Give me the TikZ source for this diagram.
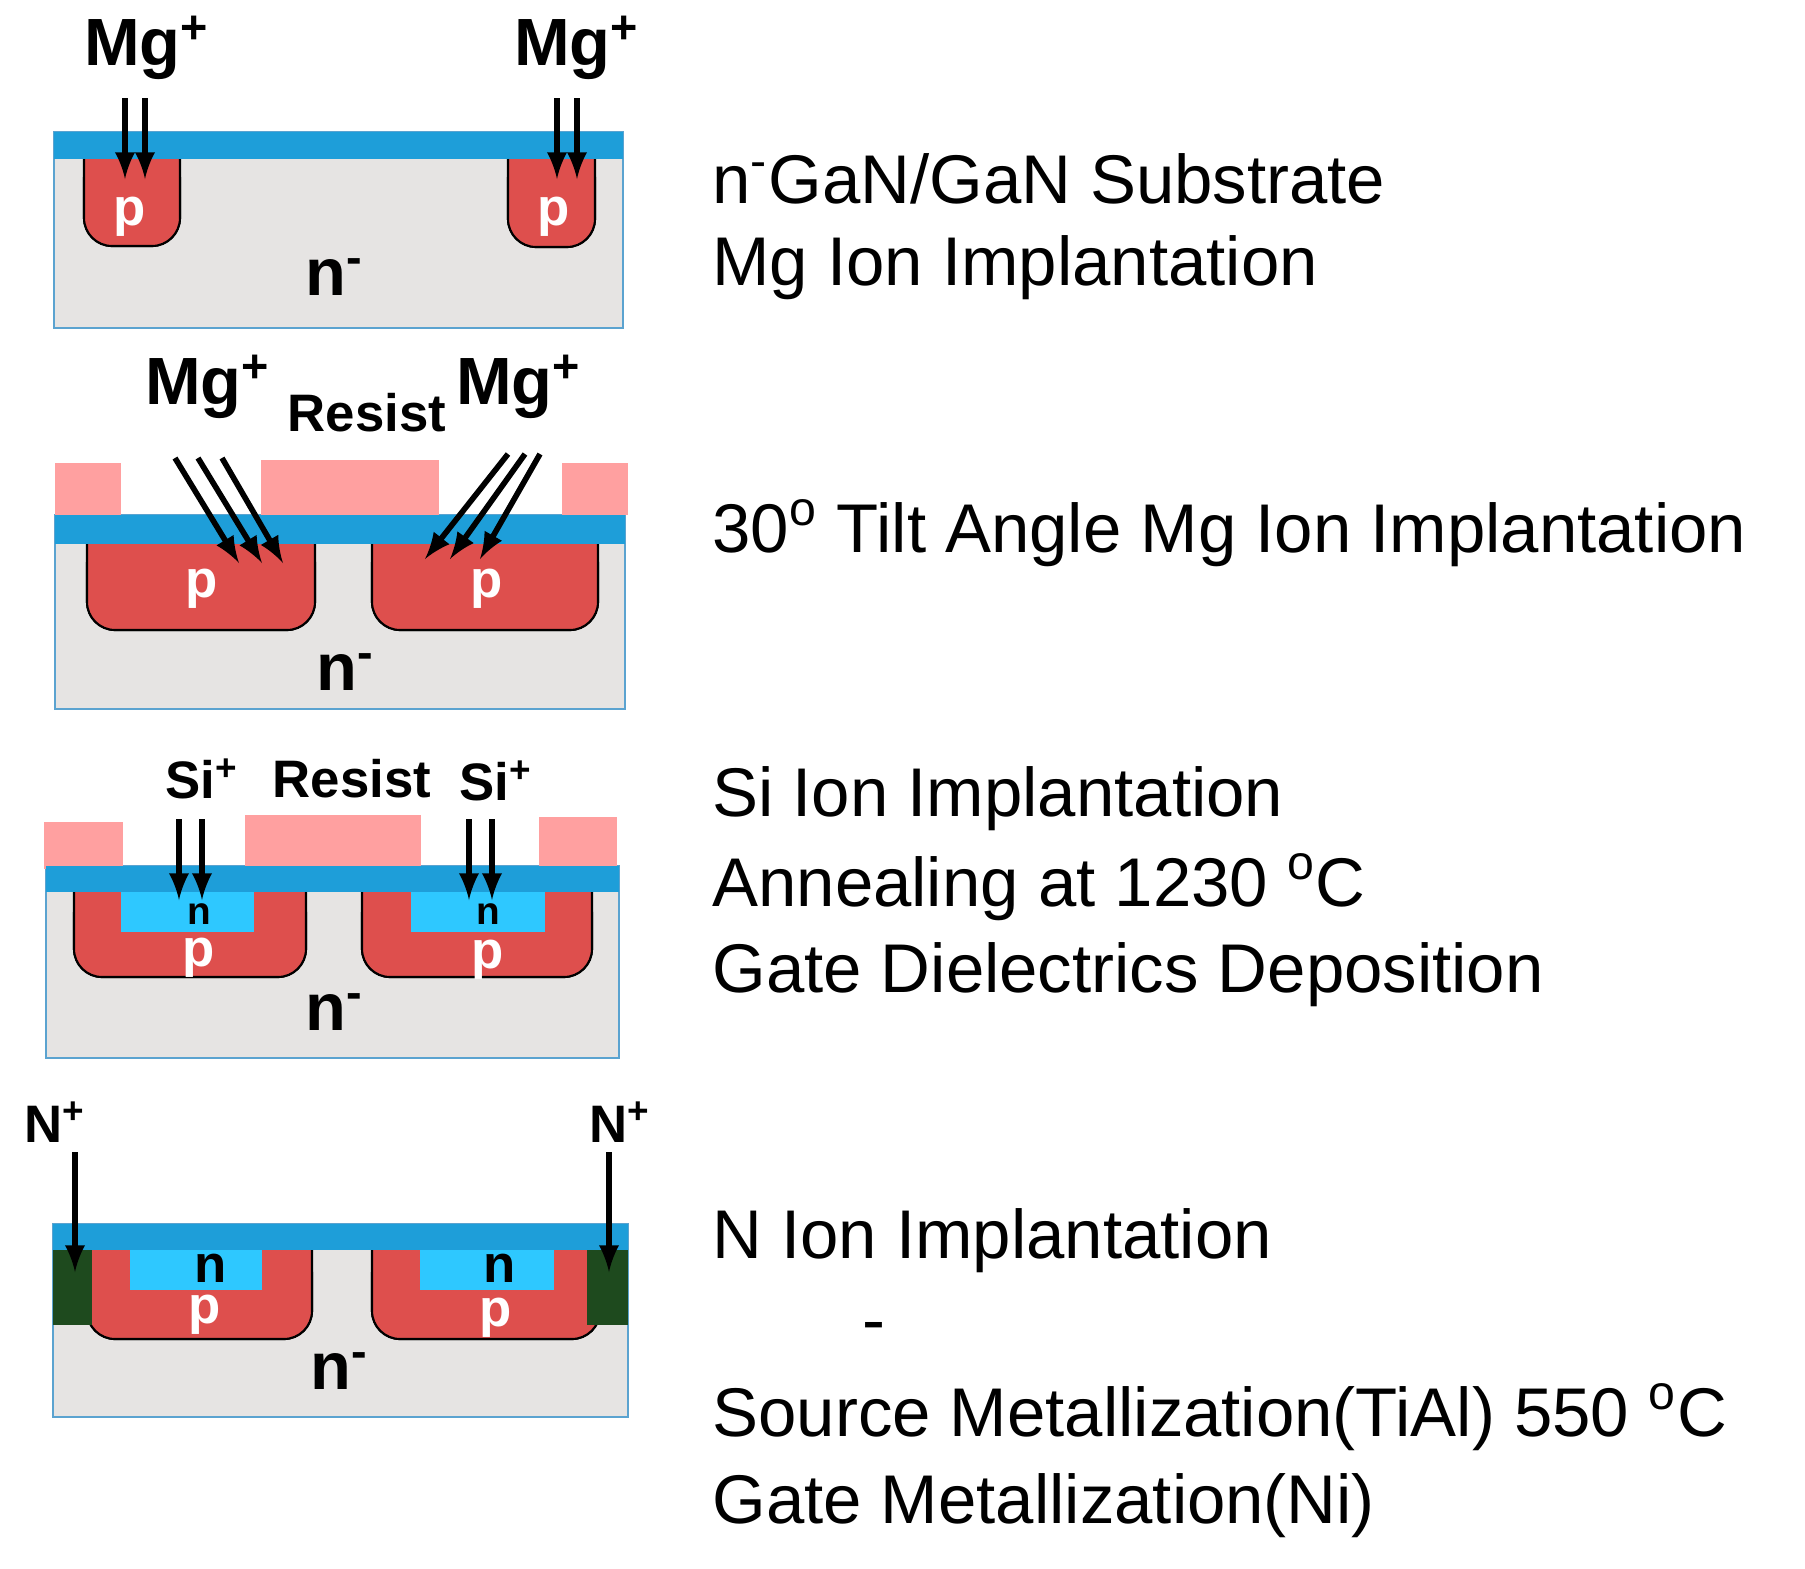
\documentclass[tikz,border=0pt]{standalone}
\usepackage{fontspec}
\setmainfont{Liberation Sans}
\definecolor{oxide}{HTML}{1E9ED9}
\definecolor{sub}{HTML}{E6E4E3}
\definecolor{pwell}{HTML}{DE4F4D}
\definecolor{resist}{HTML}{FFA0A0}
\definecolor{nplus}{HTML}{2EC8FF}
\definecolor{iso}{HTML}{1E4A1E}
\definecolor{edge}{HTML}{5BA3D0}
\tikzset{
  subst/.style={fill=sub, draw=edge, line width=0.8pt},
  ox/.style={fill=oxide},
  res/.style={fill=resist},
  pw/.style={fill=pwell, draw=black, line width=0.6pt, rounded corners=8pt},
  nw/.style={fill=nplus},
  ion/.style={-latex, line width=1.6pt},
  big/.style={font=\fontsize{19}{22}\selectfont\bfseries},
  mid/.style={font=\fontsize{15}{18}\selectfont\bfseries},
  plab/.style={inner sep=0pt, font=\fontsize{15}{18}\selectfont\bfseries, text=white},
  nlab/.style={inner sep=0pt, font=\fontsize{11}{13}\selectfont\bfseries},
  proc/.style={anchor=west, font=\fontsize{19.6}{22}\selectfont},
}
\begin{document}
\begin{tikzpicture}[x=0.01cm, y=-0.01cm]
\useasboundingbox (0,0) rectangle (1805,1568);

%panel 1
\draw[subst] (54,132) rectangle (623,328);
\fill[pw] (84,150) -- (84,246) -- (180,246) -- (180,150) -- cycle;
\fill[pw] (508,150) -- (508,247) -- (595,247) -- (595,150) -- cycle;
\draw[pw] (84,150) -- (84,246) -- (180,246) -- (180,150);
\draw[pw] (508,150) -- (508,247) -- (595,247) -- (595,150);
\fill[ox] (54,132) rectangle (623,159);
\node[plab] (p1a) at (130,217) {p};
\node[plab] (p1b) at (554,217) {p};
\node[big] (n1) at (335,277) {n\textsuperscript{-}};
\node[big] (mg1a) at (147,48) {Mg\textsuperscript{+}};
\node[big] (mg1b) at (577,48) {Mg\textsuperscript{+}};
\foreach \x in {125,145,557,577}{
  \coordinate (s\x) at (\x,98);
  \coordinate (e\x) at (\x,179);
  \draw[ion] (s\x) -- (e\x);
}

%panel 2
\draw[subst] (55,515) rectangle (625,709);
\fill[pw] (87,535) -- (87,630) -- (315,630) -- (315,535) -- cycle;
\fill[pw] (372,535) -- (372,630) -- (598,630) -- (598,535) -- cycle;
\draw[pw] (87,535) -- (87,630) -- (315,630) -- (315,535);
\draw[pw] (372,535) -- (372,630) -- (598,630) -- (598,535);
\fill[res] (55,463) rectangle (121,515);
\fill[res] (261,460) rectangle (439,515);
\fill[res] (562,463) rectangle (628,515);
\fill[ox] (55,515) rectangle (625,544);
\node[plab] (p2a) at (202,589) {p};
\node[plab] (p2b) at (487,589) {p};
\node[big] (n2) at (346,672) {n\textsuperscript{-}};
\node[big] (mg2a) at (208,387) {Mg\textsuperscript{+}};
\node[big] (mg2b) at (519,387) {Mg\textsuperscript{+}};
\node[mid] (res2) at (367,413) {Resist};
\foreach \a/\b/\c/\d [count=\i] in {175/239/458/563, 198/262/458/563, 222/283/458/563,
    508/425/454/559, 525/450/454/559, 540/480/454/559}{
  \coordinate (ts\i) at (\a,\c);
  \coordinate (te\i) at (\b,\d);
  \draw[ion] (ts\i) -- (te\i);
}

%panel 3
\draw[subst] (46,866) rectangle (619,1058);
\fill[pw] (74,885) -- (74,977) -- (306,977) -- (306,885) -- cycle;
\fill[pw] (362,885) -- (362,977) -- (592,977) -- (592,885) -- cycle;
\draw[pw] (74,885) -- (74,977) -- (306,977) -- (306,885);
\draw[pw] (362,885) -- (362,977) -- (592,977) -- (592,885);
\fill[nw] (121,885) rectangle (254,932);
\fill[nw] (411,885) rectangle (545,932);
\fill[res] (44,822) rectangle (123,869);
\fill[res] (245,815) rectangle (421,866);
\fill[res] (539,817) rectangle (617,866);
\fill[ox] (46,866) rectangle (619,892);
\node[nlab] (n3a) at (199,914) {n};
\node[nlab] (n3b) at (488,914) {n};
\node[plab] (p3a) at (199,958) {p};
\node[plab] (p3b) at (488,960) {p};
\node[big] (n3) at (335,1012) {n\textsuperscript{-}};
\node[mid] (si3a) at (202,779) {Si\textsuperscript{+}};
\node[mid] (si3b) at (496,781) {Si\textsuperscript{+}};
\node[mid] (res3) at (352,779) {Resist};
\foreach \x in {179,202,469,492}{
  \coordinate (u\x) at (\x,819);
  \coordinate (v\x) at (\x,900);
  \draw[ion] (u\x) -- (v\x);
}

%panel 4
\draw[subst] (53,1224) rectangle (628,1417);
\fill[pw] (87,1245) -- (87,1339) -- (312,1339) -- (312,1245) -- cycle;
\fill[pw] (372,1245) -- (372,1339) -- (600,1339) -- (600,1245) -- cycle;
\draw[pw] (87,1245) -- (87,1339) -- (312,1339) -- (312,1245);
\draw[pw] (372,1245) -- (372,1339) -- (600,1339) -- (600,1245);
\fill[nw] (130,1245) rectangle (262,1290);
\fill[nw] (420,1245) rectangle (554,1290);
\fill[iso] (53,1250) rectangle (92,1325);
\fill[iso] (587,1250) rectangle (628,1325);
\fill[ox] (53,1224) rectangle (628,1250);
\node[inner sep=0pt, mid] (n4a) at (211,1268) {n};
\node[inner sep=0pt, mid] (n4b) at (500,1268) {n};
\node[plab] (p4a) at (205,1315) {p};
\node[plab] (p4b) at (496,1318) {p};
\node[big] (n4) at (340,1371) {n\textsuperscript{-}};
\node[mid] (na) at (55,1122) {N\textsuperscript{+}};
\node[mid] (nb) at (620,1122) {N\textsuperscript{+}};
\foreach \x in {75,609}{
  \coordinate (f\x) at (\x,1152);
  \coordinate (g\x) at (\x,1272);
  \draw[ion] (f\x) -- (g\x);
}

%process steps
\node[proc] (st1) at (700,179) {n\textsuperscript{-}GaN/GaN Substrate};
\node[proc] (st2) at (700,268) {Mg Ion Implantation};
\node[proc] (st3) at (700,533) {30\textsuperscript{o} Tilt Angle Mg Ion Implantation};
\node[proc] (st4) at (700,799) {Si Ion Implantation};
\node[proc] (st5) at (700,887) {Annealing at 1230 \textsuperscript{o}C};
\node[proc] (st6) at (700,975) {Gate Dielectrics Deposition};
\node[proc] (st7) at (700,1241) {N Ion Implantation};
\node[proc] (st8) at (850,1333) {-};
\node[proc] (st9) at (700,1417) {Source Metallization(TiAl) 550 \textsuperscript{o}C};
\node[proc] (st10) at (700,1506) {Gate Metallization(Ni)};
\end{tikzpicture}
\end{document}
